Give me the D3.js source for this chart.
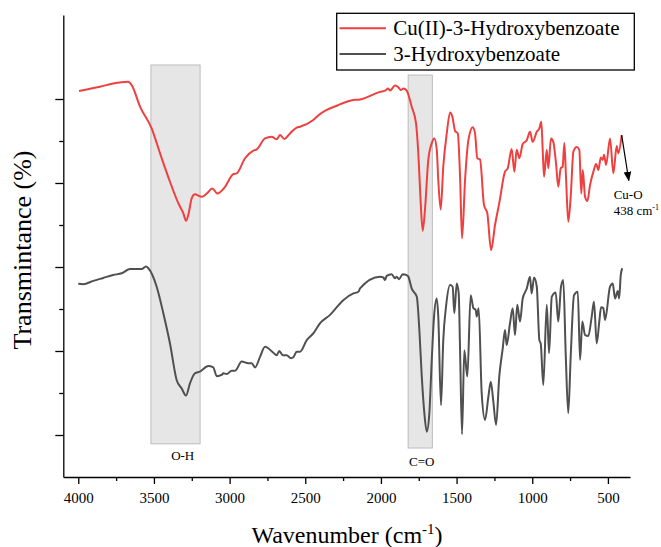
<!DOCTYPE html>
<html><head><meta charset="utf-8">
<script src="https://cdn.jsdelivr.net/npm/d3@7"></script>
<style>body{margin:0;background:#fff}svg{display:block}svg text{font-family:"Liberation Serif","Times New Roman",serif}</style>
</head><body><svg id="c" width="661" height="547" font-family="Liberation Serif"></svg>
<script>
// [wavenumber (cm-1), transmittance (a.u.)]
const cuComplex = [[3995,91.9],[3857,92.9],[3769,93.7],[3670,94.1],[3647,93.3],[3592,88.2],[3515,83.0],[3460,77.1],[3394,70.3],[3339,65.2],[3306,62.8],[3288,61.0],[3273,62.4],[3250,66.4],[3229,67.3],[3184,66.7],[3151,67.5],[3114,68.7],[3081,67.5],[3030,69.1],[2976,72.1],[2953,72.3],[2898,75.9],[2843,77.7],[2821,78.0],[2766,80.6],[2722,81.0],[2689,80.4],[2667,81.4],[2638,80.5],[2601,81.8],[2557,83.2],[2535,83.4],[2447,85.0],[2403,86.4],[2358,87.4],[2292,88.4],[2204,89.6],[2171,89.8],[2138,89.9],[2006,91.7],[1973,92.0],[1951,92.5],[1940,92.0],[1907,93.2],[1885,92.8],[1869,92.1],[1852,92.5],[1830,92.0],[1797,88.2],[1768,84.2],[1753,77.1],[1737,65.2],[1724,58.6],[1709,63.6],[1687,75.5],[1664,79.5],[1647,80.6],[1631,77.9],[1621,70.7],[1605,63.7],[1588,73.9],[1565,81.8],[1543,86.8],[1528,85.8],[1510,82.4],[1492,81.8],[1477,71.5],[1464,56.8],[1444,70.7],[1422,80.2],[1393,83.3],[1378,81.8],[1363,75.9],[1345,75.6],[1319,64.8],[1297,62.8],[1272,54.0],[1246,60.0],[1218,65.2],[1180,72.7],[1162,73.5],[1136,78.1],[1118,72.7],[1103,77.9],[1085,75.9],[1063,79.3],[1036,80.2],[1015,82.2],[997,79.8],[970,82.2],[953,83.0],[940,84.6],[931,77.9],[922,71.5],[904,77.9],[894,73.5],[876,80.6],[861,79.8],[843,74.7],[828,69.1],[812,73.5],[799,73.9],[788,79.5],[777,71.5],[762,60.8],[746,66.7],[728,77.5],[706,78.6],[689,77.9],[676,67.5],[666,73.1],[651,66.7],[636,65.7],[618,69.5],[596,72.7],[578,74.5],[563,73.1],[547,76.1],[534,75.5],[526,76.7],[512,74.3],[486,80.6],[464,72.3],[442,78.8],[431,77.1],[409,81.4]];
const ligand = [[4000,46.0],[3967,45.9],[3901,46.7],[3835,47.4],[3769,48.1],[3713,48.5],[3658,49.5],[3581,49.5],[3553,50.1],[3537,49.7],[3482,45.3],[3438,39.0],[3394,31.8],[3350,23.1],[3317,21.1],[3288,19.4],[3262,22.3],[3229,24.7],[3196,25.1],[3141,26.4],[3108,26.1],[3085,24.0],[3052,24.3],[3042,24.7],[3019,24.5],[2986,25.3],[2964,25.3],[2920,27.5],[2876,27.1],[2854,27.1],[2832,26.1],[2799,28.6],[2766,31.0],[2711,29.6],[2689,29.0],[2672,30.0],[2649,29.0],[2623,29.0],[2594,28.3],[2579,28.5],[2557,29.8],[2535,29.8],[2490,32.6],[2447,34.2],[2403,36.6],[2336,38.6],[2249,42.1],[2182,43.7],[2149,44.1],[2138,44.9],[2006,47.7],[1984,47.5],[1973,46.9],[1962,47.9],[1929,48.3],[1907,47.3],[1896,47.7],[1880,47.1],[1856,48.3],[1834,48.1],[1819,47.7],[1797,44.9],[1763,42.9],[1746,35.0],[1730,23.9],[1713,15.2],[1697,10.8],[1680,15.2],[1664,27.9],[1649,38.2],[1631,42.5],[1621,38.2],[1603,17.1],[1588,32.6],[1570,40.5],[1543,45.7],[1526,45.3],[1515,39.0],[1499,46.1],[1486,43.7],[1477,30.2],[1464,10.2],[1449,30.2],[1429,23.9],[1407,43.3],[1389,40.2],[1374,39.8],[1367,38.2],[1354,40.2],[1334,19.9],[1312,13.6],[1290,19.1],[1274,22.7],[1257,17.9],[1239,12.4],[1218,23.9],[1195,30.6],[1180,35.0],[1169,31.4],[1147,36.6],[1129,40.2],[1114,33.8],[1099,41.0],[1081,37.0],[1063,42.5],[1036,44.9],[1015,47.7],[1004,43.7],[988,47.5],[970,45.3],[953,32.6],[944,31.8],[927,21.9],[904,41.0],[889,29.5],[871,42.9],[845,43.9],[828,37.0],[810,45.3],[795,46.9],[779,29.5],[762,15.2],[746,28.6],[724,43.3],[699,44.1],[684,27.9],[669,37.0],[651,33.8],[629,33.6],[607,38.2],[592,41.7],[574,31.8],[557,37.0],[545,40.4],[530,40.2],[519,37.4],[486,45.3],[468,46.1],[453,42.5],[435,44.3],[426,42.5],[415,48.1],[405,49.7]];
const seriesNames = ["Cu(II)-3-Hydroxybenzoate", "3-Hydroxybenzoate"];
const seriesColors = ["#ef4040", "#505050"];
const xTickValues = [4000,3500,3000,2500,2000,1500,1000,500];
const xMinorTicks = [3750,3250,2750,2250,1750,1250,750];
const yMajorTicks = [10,30,50,70,90];
const yMinorTicks = [20,40,60,80];
const bands = [{from:3520,to:3195,top:98.1,bottom:7.9,label:"O-H",lx:3310,ly:4.0},
               {from:1820,to:1660,top:95.7,bottom:6.9,label:"C=O",lx:1730,ly:2.6}];

const svg = d3.select("#c");
const x = d3.scaleLinear().domain([4099,354]).range([63.3,630]);
const y = d3.scaleLinear().domain([0,110]).range([477,15]);

// bands
bands.forEach(b=>{
  svg.append("rect").attr("x",x(b.from)).attr("y",y(b.top))
    .attr("width",x(b.to)-x(b.from)).attr("height",y(b.bottom)-y(b.top))
    .attr("fill","#e6e6e6").attr("stroke","#bdbdbd").attr("stroke-width",1);
});

const line = d3.line().x(d=>x(d[0])).y(d=>y(d[1])).curve(d3.curveMonotoneX);
[cuComplex, ligand].forEach((s,i)=>{
  svg.append("path").datum(s).attr("d",line).attr("fill","none")
    .attr("stroke",seriesColors[i]).attr("stroke-width",2).attr("stroke-linejoin","round");
});

// band labels
bands.forEach(b=>{
  svg.append("text").attr("x",x(b.lx)).attr("y",y(b.ly)).attr("text-anchor","middle")
    .attr("font-size",13).text(b.label);
});

// axes
const xAxis = d3.axisBottom(x).tickValues(xTickValues).tickSize(7).tickSizeOuter(0).tickFormat(d3.format("d"));
const gx = svg.append("g").attr("transform","translate(0,477)").call(xAxis);
gx.attr("font-family",null);
gx.selectAll("text").attr("font-size",15).attr("dy","1.05em");
gx.selectAll("line,path").attr("stroke","#000").attr("stroke-width",1.3);
const gxm = svg.append("g").attr("transform","translate(0,477)").call(d3.axisBottom(x).tickValues(xMinorTicks).tickSize(4).tickSizeOuter(0).tickFormat(""));
gxm.select("path").remove(); gxm.selectAll("line").attr("stroke","#000").attr("stroke-width",1.3);

const gy = svg.append("g").attr("transform","translate(63.3,0)").call(d3.axisLeft(y).tickValues(yMajorTicks).tickSize(8).tickSizeOuter(0).tickFormat(""));
gy.selectAll("line,path").attr("stroke","#000").attr("stroke-width",1.3);
const gym = svg.append("g").attr("transform","translate(63.3,0)").call(d3.axisLeft(y).tickValues(yMinorTicks).tickSize(4).tickSizeOuter(0).tickFormat(""));
gym.select("path").remove(); gym.selectAll("line").attr("stroke","#000").attr("stroke-width",1.3);

// axis titles
svg.append("text").attr("x",347).attr("y",543).attr("text-anchor","middle").attr("font-size",24)
  .html('Wavenumber (cm<tspan font-size="15" dy="-9">-1</tspan><tspan dy="9">)</tspan>');
svg.append("text").attr("transform","translate(31,250) rotate(-90)").attr("text-anchor","middle")
  .attr("font-size",26).text("Transmintance (%)");

// Cu-O annotation
const defs = svg.append("defs");
defs.append("marker").attr("id","ah").attr("viewBox","0 0 10 10").attr("refX",9).attr("refY",5)
  .attr("markerWidth",8).attr("markerHeight",8).attr("orient","auto")
  .append("path").attr("d","M0,1 L10,5 L0,9 Z").attr("fill","#000");
svg.append("line").attr("x1",x(409)).attr("y1",y(81.4)).attr("x2",x(362)).attr("y2",y(70.6))
  .attr("stroke","#000").attr("stroke-width",1.2).attr("marker-end","url(#ah)");
svg.append("text").attr("x",x(462)).attr("y",y(66.3)).attr("font-size",13).text("Cu-O");
svg.append("text").attr("x",x(462)).attr("y",y(62.4)).attr("font-size",13)
  .html('438 cm<tspan font-size="8" dy="-5">-1</tspan>');

// legend
const lg = svg.append("g");
lg.append("rect").attr("x",336.7).attr("y",13.3).attr("width",297.6).attr("height",56.7)
  .attr("fill","#fff").attr("stroke","#000").attr("stroke-width",1.3);
seriesNames.forEach((n,i)=>{
  const yy = 28.3 + i*25.7;
  lg.append("line").attr("x1",339.5).attr("x2",386).attr("y1",yy).attr("y2",yy)
    .attr("stroke",seriesColors[i]).attr("stroke-width",2);
  lg.append("text").attr("x",393.3).attr("y",yy+7).attr("font-size",21).text(n);
});
</script></body></html>
